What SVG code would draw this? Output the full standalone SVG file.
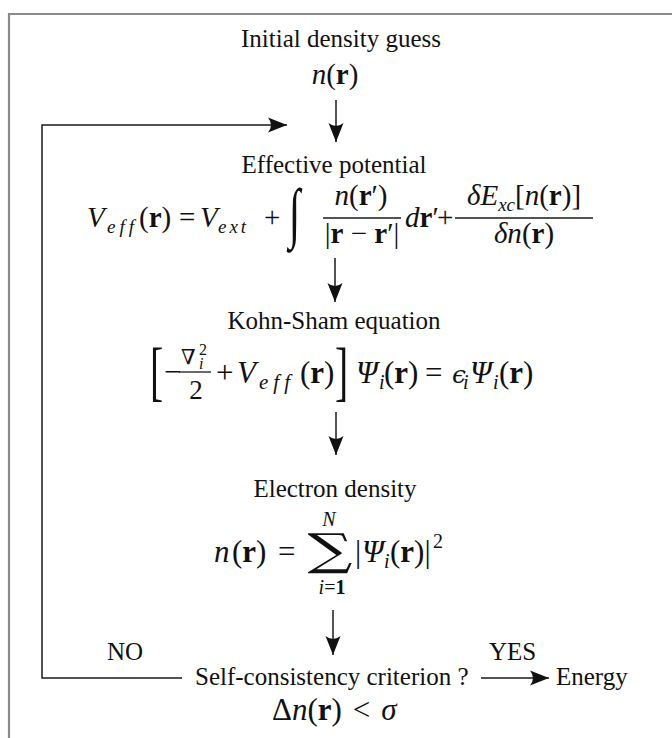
<svg xmlns="http://www.w3.org/2000/svg" width="672" height="738" viewBox="0 0 672 738" font-family="'Liberation Serif', 'Times New Roman', Times, serif">
<defs>
<style>
text{fill:#111;font-family:'Liberation Serif','Times New Roman',Times,serif}
.t{font-size:25px}
.m{font-size:29px}
.M{font-size:31px}
.i{font-style:italic}
.b{font-weight:bold}
.s{font-size:19px}
.S{font-size:20px}
.ss{font-size:16px}
.big{font-size:66px}
.d{font-family:'DejaVu Serif',serif}
.ln{fill:none;stroke:#1a1a1a;stroke-width:1.5}
.bar{stroke:#1a1a1a;stroke-width:1.3}
</style>
<marker id="ah" viewBox="0 -8 20 16" markerWidth="20" markerHeight="16" refX="19" refY="0" orient="auto" markerUnits="userSpaceOnUse">
<path d="M19,0 L0,-7.5 Q6,0 0,7.5 Z" fill="#111"/>
</marker>
</defs>
<path d="M9,738 V14 H672" fill="none" stroke="#8a8a8a" stroke-width="2.2"/>

<g id="connectors">
<path class="ln" d="M336,100 V142" marker-end="url(#ah)"/>
<path class="ln" d="M335,258 V302" marker-end="url(#ah)"/>
<path class="ln" d="M336,412 V455" marker-end="url(#ah)"/>
<path class="ln" d="M333,610 V655" marker-end="url(#ah)"/>
<path class="ln" d="M182,678 H42 V125 H287" marker-end="url(#ah)"/>
<path class="ln" d="M481,678 H549" marker-end="url(#ah)"/>
<text class="t" x="107" y="660">NO</text>
<text class="t" x="489" y="660">YES</text>
</g>

<g id="initial">
<text class="t" x="341" y="47" text-anchor="middle">Initial density guess</text>
<text class="m" x="335" y="84" text-anchor="middle"><tspan class="i">n</tspan>(<tspan class="b">r</tspan>)</text>
</g>

<g id="effective">
<text class="t" x="334" y="173" text-anchor="middle">Effective potential</text>
<text class="m i" x="87" y="227">V</text>
<text class="s i" x="107" y="233" letter-spacing="4">eff</text>
<text class="m" x="139" y="227">(<tspan class="b">r</tspan>)</text>
<text class="m" x="179" y="227">=</text>
<text class="m i" x="200" y="227">V</text>
<text class="s i" x="218" y="233" letter-spacing="3">ext</text>
<text class="m" x="264" y="227">+</text>
<text x="0" y="0" style="font-size:46px" transform="translate(289,235) scale(0.9,1.45)">∫</text>
<text class="m" x="361" y="205" text-anchor="middle"><tspan class="i">n</tspan>(<tspan class="b">r</tspan>′)</text>
<line class="bar" x1="323" y1="218" x2="401" y2="218"/>
<text class="m" x="362" y="243" text-anchor="middle">|<tspan class="b">r</tspan> − <tspan class="b">r</tspan>′|</text>
<text class="m" x="405" y="227"><tspan class="i">d</tspan><tspan class="b">r</tspan>′</text>
<text class="m" x="437" y="227">+</text>
<text class="m" x="524" y="205" text-anchor="middle"><tspan class="i">δE</tspan><tspan class="i" style="font-size:19px" dy="6">xc</tspan><tspan dy="-6">[</tspan><tspan class="i">n</tspan>(<tspan class="b">r</tspan>)]</text>
<line class="bar" x1="455" y1="218" x2="593" y2="218"/>
<text class="m" x="524" y="243" text-anchor="middle"><tspan class="i">δn</tspan>(<tspan class="b">r</tspan>)</text>
</g>

<g id="kohn-sham">
<text class="t" x="334" y="329" text-anchor="middle">Kohn-Sham equation</text>
<text class="big" x="0" y="0" transform="translate(150,393) scale(0.6,1)">[</text>
<text class="M" x="164" y="382">−</text>
<text class="d" x="181" y="364" style="font-size:21px">∇</text>
<text class="ss" x="199" y="355">2</text>
<text class="ss i" x="199" y="369">i</text>
<line class="bar" x1="179" y1="372" x2="211" y2="372"/>
<text class="M" x="196" y="399" text-anchor="middle" style="font-size:27px">2</text>
<text class="M" x="216" y="383">+</text>
<text class="M i" x="237" y="383">V</text>
<text class="S i" x="259" y="389" letter-spacing="5" style="font-size:21px">eff</text>
<text class="M" x="300" y="383">(<tspan class="b">r</tspan>)</text>
<text class="big" x="0" y="0" transform="translate(335,393) scale(0.6,1)">]</text>
<text class="M i" x="356" y="383">Ψ</text>
<text class="S i" x="379" y="389">i</text>
<text class="M" x="384" y="383">(<tspan class="b">r</tspan>)</text>
<text class="M" x="425" y="383">=</text>
<text class="d i" x="452" y="383" style="font-size:25px">ϵ</text>
<text class="S i" x="463" y="389">i</text>
<text class="M i" x="470" y="383">Ψ</text>
<text class="S i" x="493" y="389">i</text>
<text class="M" x="499" y="383">(<tspan class="b">r</tspan>)</text>
</g>

<g id="electron">
<text class="t" x="335" y="497" text-anchor="middle">Electron density</text>
<text class="M i" x="214" y="562">n</text>
<text class="M" x="232" y="562">(<tspan class="b">r</tspan>)</text>
<text class="M" x="278" y="562">=</text>
<text class="S i" x="329" y="526" text-anchor="middle">N</text>
<text class="d" x="0" y="0" style="font-size:42px" text-anchor="middle" transform="translate(330,565) scale(1.5,1.05)">∑</text>
<text class="S" x="332" y="594" text-anchor="middle"><tspan class="i">i</tspan>=<tspan class="b">1</tspan></text>
<text class="M" x="355" y="562">|</text>
<text class="M i" x="362" y="562">Ψ</text>
<text class="S i" x="384" y="568">i</text>
<text class="M" x="390" y="562">(<tspan class="b">r</tspan>)|</text>
<text class="S" x="433" y="548">2</text>
</g>

<g id="criterion">
<text class="t" x="195" y="685">Self-consistency criterion ?</text>
<text class="M" x="272" y="720">Δ<tspan class="i">n</tspan>(<tspan class="b">r</tspan>)<tspan dx="11">&lt;</tspan><tspan class="i" dx="11">σ</tspan></text>
</g>

<g id="energy">
<text class="t" x="556" y="685">Energy</text>
</g>
</svg>
